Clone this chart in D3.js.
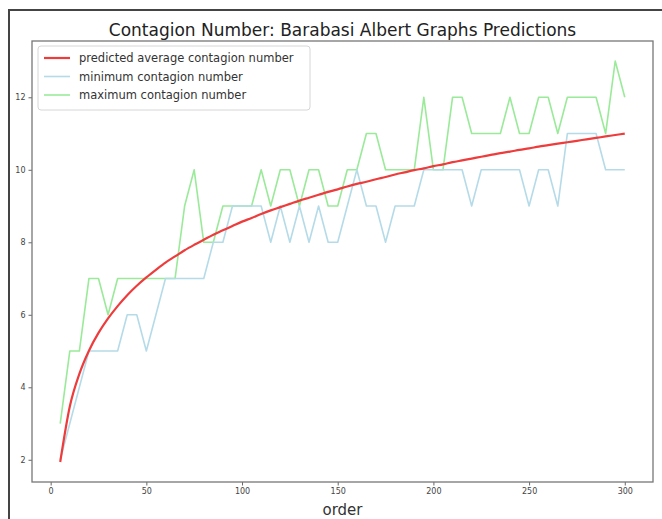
<!DOCTYPE html>
<html>
<head>
<meta charset="utf-8">
<script src="https://cdn.jsdelivr.net/npm/d3@7"></script>
<style>
  body { margin: 0; background: #fff; }
  svg { display: block; font-family: "DejaVu Sans", sans-serif; }
</style>
</head>
<body>
<div id="chart"></div>
<script>
// graph orders (x axis)
var orders = [5, 10, 15, 20, 25, 30, 35, 40, 45, 50, 55, 60, 65, 70, 75, 80, 85, 90, 95, 100,
              105, 110, 115, 120, 125, 130, 135, 140, 145, 150, 155, 160, 165, 170, 175, 180, 185, 190, 195, 200,
              205, 210, 215, 220, 225, 230, 235, 240, 245, 250, 255, 260, 265, 270, 275, 280, 285, 290, 295, 300];

// predicted average contagion number
var predicted = [1.94, 3.47, 4.37, 5.01, 5.50, 5.90, 6.24, 6.54, 6.80, 7.03, 7.24, 7.44, 7.61, 7.78, 7.93, 8.07, 8.21, 8.33, 8.45, 8.57,
                 8.67, 8.78, 8.88, 8.97, 9.06, 9.15, 9.23, 9.31, 9.39, 9.46, 9.54, 9.61, 9.67, 9.74, 9.80, 9.87, 9.93, 9.99, 10.04, 10.10,
                 10.15, 10.21, 10.26, 10.31, 10.36, 10.41, 10.46, 10.50, 10.55, 10.59, 10.64, 10.68, 10.72, 10.76, 10.80, 10.84, 10.88, 10.92, 10.96, 11.00];

// minimum contagion number
var minimum = [2, 3, 4, 5, 5, 5, 5, 6, 6, 5, 6, 7, 7, 7, 7, 7, 8, 8, 9, 9,
               9, 9, 8, 9, 8, 9, 8, 9, 8, 8, 9, 10, 9, 9, 8, 9, 9, 9, 10, 10,
               10, 10, 10, 9, 10, 10, 10, 10, 10, 9, 10, 10, 9, 11, 11, 11, 11, 10, 10, 10];

// maximum contagion number
var maximum = [3, 5, 5, 7, 7, 6, 7, 7, 7, 7, 7, 7, 7, 9, 10, 8, 8, 9, 9, 9,
               9, 10, 9, 10, 10, 9, 10, 10, 9, 9, 10, 10, 11, 11, 10, 10, 10, 10, 12, 10,
               10, 12, 12, 11, 11, 11, 11, 12, 11, 11, 12, 12, 11, 12, 12, 12, 12, 11, 13, 12];

var xTicks = [0, 50, 100, 150, 200, 250, 300];
var yTicks = [2, 4, 6, 8, 10, 12];

var seriesNames = ["predicted average contagion number", "minimum contagion number", "maximum contagion number"];
var seriesColours = ["#ee3b3b", "#b5dbe8", "#9aea9a"];

drawChart();

function drawChart() {
    let width = 662;
    let height = 519;
    //axes box, hardcoded to sit like the original figure
    let box = {left: 32, top: 41, right: 653, bottom: 482};

    let svg = d3.select("#chart").append("svg")
                .attr("width", width)
                .attr("height", height);

    //outer frame (only the top and left edges are visible in the picture)
    svg.append("path")
       .attr("d", "M9,519 L9,10 L662,10")
       .attr("fill", "none")
       .attr("stroke", "#444")
       .attr("stroke-width", 2);

    //matplotlib style 5% margins around the data
    let xPad = (d3.max(orders) - d3.min(orders)) * 0.05;
    let yMin = d3.min(predicted.concat(minimum));
    let yMax = d3.max(maximum);
    let yPad = (yMax - yMin) * 0.05;

    let x = d3.scaleLinear()
              .domain([d3.min(orders) - xPad, d3.max(orders) + xPad])
              .range([box.left, box.right]);
    let y = d3.scaleLinear()
              .domain([yMin - yPad, yMax + yPad])
              .range([box.bottom, box.top]);

    //title
    svg.append("text")
       .attr("x", (box.left + box.right) / 2)
       .attr("y", 36)
       .attr("text-anchor", "middle")
       .style("font-size", "17px")
       .style("fill", "#222")
       .text("Contagion Number: Barabasi Albert Graphs Predictions");

    //lines, drawn max, min, then predicted on top
    let line = d3.line()
                 .x(function(d) { return x(d[0]); })
                 .y(function(d) { return y(d[1]); });
    //the fitted curve is smooth in the original
    let smoothLine = d3.line()
                       .curve(d3.curveMonotoneX)
                       .x(function(d) { return x(d[0]); })
                       .y(function(d) { return y(d[1]); });

    let lines = svg.append("g");
    let order = [2, 1, 0];
    let allSeries = [predicted, minimum, maximum];
    let widths = [2.2, 1.6, 1.6];
    order.forEach(function(i) {
        lines.append("path")
             .datum(orders.map(function(o, k) { return [o, allSeries[i][k]]; }))
             .attr("fill", "none")
             .attr("stroke", seriesColours[i])
             .attr("stroke-width", widths[i])
             .attr("stroke-linejoin", "round")
             .attr("d", i == 0 ? smoothLine : line);
    });

    //axes
    let xAxis = svg.append("g")
                   .attr("transform", "translate(0," + box.bottom + ")")
                   .call(d3.axisBottom(x).tickValues(xTicks).tickSize(3.5).tickPadding(3));
    let yAxis = svg.append("g")
                   .attr("transform", "translate(" + box.left + ",0)")
                   .call(d3.axisLeft(y).tickValues(yTicks).tickSize(3.5).tickPadding(3));

    [xAxis, yAxis].forEach(function(a) {
        a.select(".domain").remove();
        a.selectAll("line").attr("stroke", "#666");
        a.selectAll("text").style("font-size", "8px").style("fill", "#444")
         .style("font-family", "DejaVu Sans, sans-serif");
    });

    //spines
    svg.append("rect")
       .attr("x", box.left)
       .attr("y", box.top)
       .attr("width", box.right - box.left)
       .attr("height", box.bottom - box.top)
       .attr("fill", "none")
       .attr("stroke", "#777")
       .attr("stroke-width", 1.3);

    //x label
    svg.append("text")
       .attr("x", (box.left + box.right) / 2)
       .attr("y", 515)
       .attr("text-anchor", "middle")
       .style("font-size", "15px")
       .style("fill", "#333")
       .text("order");

    drawLegend(svg);
}

/*drawLegend: legend box in the top left corner of the axes
*Parameters:
*   svg element
*/
function drawLegend(svg) {
    let lg = svg.append("g").attr("transform", "translate(38,46)");
    lg.append("rect")
      .attr("width", 272)
      .attr("height", 64)
      .attr("rx", 3)
      .attr("fill", "#fff")
      .attr("fill-opacity", 0.8)
      .attr("stroke", "#d6d6d6");

    seriesNames.forEach(function(name, i) {
        let rowY = 12 + i * 18.5;
        lg.append("line")
          .attr("x1", 6).attr("x2", 32)
          .attr("y1", rowY).attr("y2", rowY)
          .attr("stroke", seriesColours[i])
          .attr("stroke-width", i == 0 ? 2.2 : 1.6);
        lg.append("text")
          .attr("x", 41)
          .attr("y", rowY + 4)
          .style("font-size", "11.5px")
          .style("fill", "#333")
          .text(name);
    });
}
</script>
</body>
</html>
